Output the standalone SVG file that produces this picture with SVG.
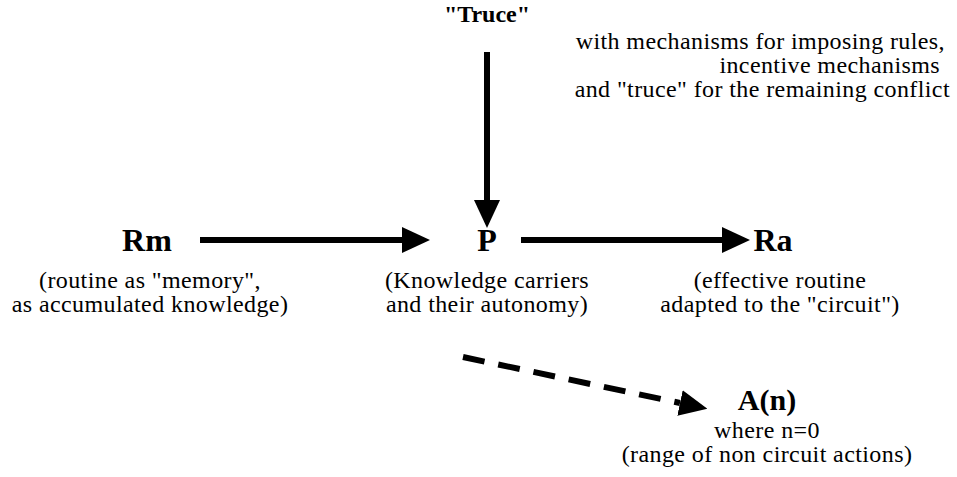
<svg xmlns="http://www.w3.org/2000/svg" width="957" height="477" viewBox="0 0 957 477">
<style>
text{font-family:"Liberation Serif","Times New Roman",serif;fill:#000}
.t{font-size:24px;letter-spacing:0.4px}
.b{font-size:32px;font-weight:bold}
.tb{font-size:24px;font-weight:bold}
.c{text-anchor:middle}
.e{text-anchor:end}
.ln{stroke:#000;stroke-width:6;fill:none}
.dash{stroke:#000;stroke-width:6;fill:none;stroke-dasharray:22 14}
</style>
<defs>
<marker id="ah" markerUnits="userSpaceOnUse" markerWidth="28" markerHeight="26" refX="0" refY="13" orient="auto" viewBox="0 0 28 26">
<path d="M0,0 L28,13 L0,26 Z" fill="#000"/>
</marker>
</defs>
<rect width="957" height="477" fill="#fff"/>
<g id="connectors">
<line class="ln" x1="487" y1="52" x2="487" y2="200" marker-end="url(#ah)"/>
<line class="ln" x1="200" y1="240" x2="402" y2="240" marker-end="url(#ah)"/>
<line class="ln" x1="521" y1="240" x2="722" y2="240" marker-end="url(#ah)"/>
<line class="dash" x1="463" y1="357" x2="680" y2="403" marker-end="url(#ah)"/>
</g>
<g id="truce">
<text class="tb c" x="487" y="22">"Truce"</text>
</g>
<g id="truce-note">
<text class="t e" x="945" y="49">with mechanisms for imposing rules,</text>
<text class="t e" x="940" y="73">incentive mechanisms</text>
<text class="t e" x="950" y="97">and "truce" for the remaining conflict</text>
</g>
<g id="Rm">
<text class="b c" x="147" y="251">Rm</text>
<text class="t c" x="150" y="288">(routine as "memory",</text>
<text class="t c" x="150" y="312">as accumulated knowledge)</text>
</g>
<g id="P">
<text class="b c" x="487" y="251">P</text>
<text class="t c" x="487" y="288">(Knowledge carriers</text>
<text class="t c" x="487" y="312">and their autonomy)</text>
</g>
<g id="Ra">
<text class="b c" x="773" y="251">Ra</text>
<text class="t c" x="780" y="288">(effective routine</text>
<text class="t c" x="780" y="312">adapted to the "circuit")</text>
</g>
<g id="An">
<text class="b c" x="767" y="410" style="font-size:30px">A(n)</text>
<text class="t c" x="767" y="438">where n=0</text>
<text class="t c" x="767" y="462">(range of non circuit actions)</text>
</g>
</svg>
